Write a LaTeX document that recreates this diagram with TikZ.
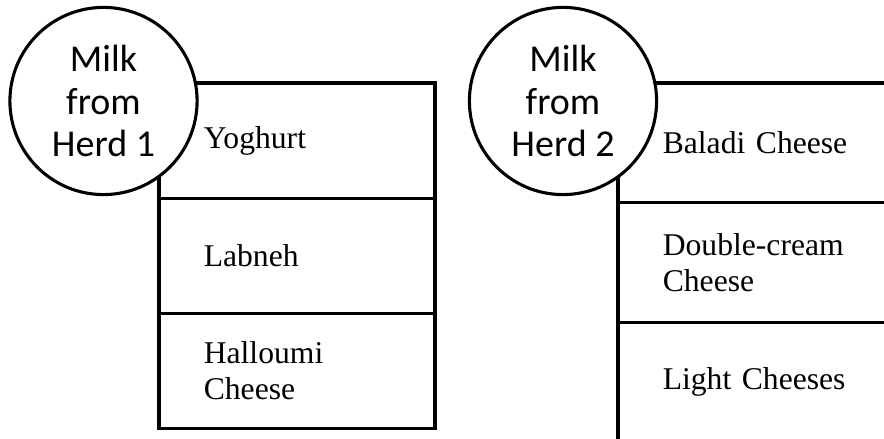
\documentclass[tikz,border=0pt]{standalone}
\usepackage{fontspec}
\setmainfont{Liberation Serif}
\newfontfamily\herdfont{Carlito}
\usepackage{tikz}
\usetikzlibrary{shapes.geometric}
\usetikzlibrary{chains,positioning}

\begin{document}
\begin{tikzpicture}[cell/.style={rectangle, draw, line width=2.2pt, outer sep=0pt, minimum width=6.9cm, text width=4.66cm, inner xsep=1.12cm, align=left, font=\fontsize{22.5}{25.5}\selectfont},
                    herd/.style={circle, draw, fill=white, line width=2.2pt, minimum size=4.68cm, inner sep=0pt, align=center, font=\herdfont\fontsize{27}{30}\selectfont}]

                \useasboundingbox (0,0) rectangle (22.1,10.975);
                \clip (0,0) rectangle (22.1,10.975);

                % products from herd 1
                \begin{scope}[shift={(7.425,7.46)}, start chain=going below, node distance=0pt]
                    \foreach \x/ \t in {yog/Yoghurt, lab/Labneh, hal/{Halloumi\\Cheese}}{
                        \node[cell,on chain,minimum height=2.88cm] (\x) {\t};
                    }
                \end{scope}

                % products from herd 2
                \begin{scope}[shift={(18.9,7.405)}, start chain=going below, node distance=0pt]
                    \foreach \x/ \t in {bal/Baladi Cheese, dbl/{Double-cream\\Cheese}, lgt/Light Cheeses}{
                        \node[cell,on chain,minimum height=2.99cm] (\x) {\t};
                    }
                \end{scope}

                \node[herd] (herd1) at (2.5875,8.45) {Milk\\from\\Herd 1};
                \node[herd] (herd2) at (14.075,8.45) {Milk\\from\\Herd 2};

        \end{tikzpicture}
\end{document}
